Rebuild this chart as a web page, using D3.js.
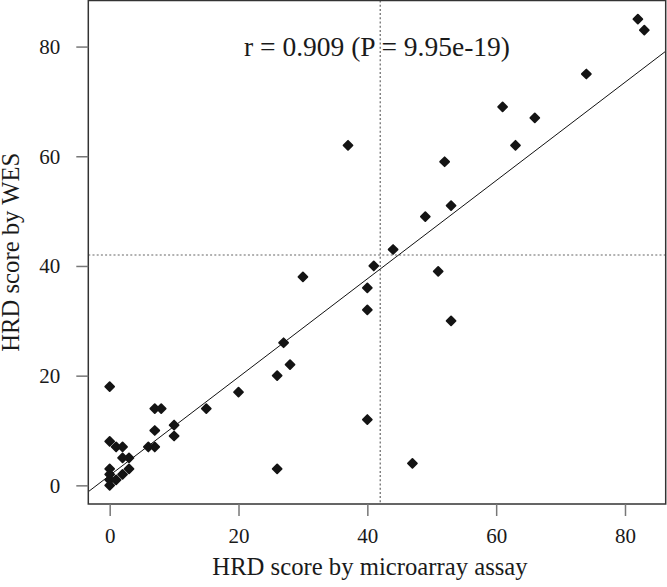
<!DOCTYPE html>
<html>
<head>
<meta charset="utf-8">
<script src="https://cdn.jsdelivr.net/npm/d3@7/dist/d3.min.js"></script>
<style>
  html, body { margin: 0; padding: 0; background: #fff; }
  svg { display: block; }
  text { font-family: "Liberation Serif", "Times New Roman", serif; fill: #1a1a1a; }
</style>
</head>
<body>
<svg id="chart" width="667" height="587"></svg>
<script>
// HRD score by microarray assay (x) and by WES (y), one entry per sample
const microarrayScores = [0, 7, 8, 7, 10, 10, 6, 7, 0, 1, 2, 2, 3, 0, 0, 0, 0, 1, 2, 3,
  15, 20, 26, 28, 27, 26, 30, 37, 40, 40, 40, 41, 44, 47, 49, 51, 53, 53, 52, 61, 63, 66, 74, 82, 83];
const wesScores = [18, 14, 14, 10, 11, 9, 7, 7, 8, 7, 7, 5, 5, 3, 2, 1, 0, 1, 2, 3,
  14, 17, 20, 22, 26, 3, 38, 62, 36, 32, 12, 40, 43, 4, 49, 39, 51, 30, 59, 69, 62, 67, 75, 85, 83];
const xTicks = [0, 20, 40, 60, 80];
const yTicks = [0, 20, 40, 60, 80];
const threshold = [42];
const annotation = "r = 0.909 (P = 9.95e-19)";
const xTitle = "HRD score by microarray assay";
const yTitle = "HRD score by WES";

const points = microarrayScores.map((x, i) => ({ x, y: wesScores[i] }));

const svg = d3.select("#chart");
const plot = { left: 88.3, right: 665.7, top: 0.5, bottom: 504 };

function padded(ext) {
  const d = (ext[1] - ext[0]) * 0.04;
  return [ext[0] - d, ext[1] + d];
}
const x = d3.scaleLinear().domain(padded(d3.extent(microarrayScores))).range([plot.left, plot.right]);
const y = d3.scaleLinear().domain(padded(d3.extent(wesScores))).range([plot.bottom, plot.top]);

svg.append("defs").append("clipPath").attr("id", "clip")
  .append("rect").attr("x", plot.left).attr("y", plot.top)
  .attr("width", plot.right - plot.left).attr("height", plot.bottom - plot.top);

const g = svg.append("g").attr("clip-path", "url(#clip)");

// threshold dotted lines
g.selectAll("line.vthr").data(threshold).join("line")
  .attr("x1", d => x(d)).attr("x2", d => x(d))
  .attr("y1", plot.top).attr("y2", plot.bottom)
  .attr("stroke", "#666").attr("stroke-width", 1.2).attr("stroke-dasharray", "2,2.2");
g.selectAll("line.hthr").data(threshold).join("line")
  .attr("y1", d => y(d)).attr("y2", d => y(d))
  .attr("x1", plot.left).attr("x2", plot.right)
  .attr("stroke", "#666").attr("stroke-width", 1.2).attr("stroke-dasharray", "2,2.2");

// least squares fit
const mx = d3.mean(microarrayScores), my = d3.mean(wesScores);
let sxy = 0, sxx = 0;
points.forEach(p => { sxy += (p.x - mx) * (p.y - my); sxx += (p.x - mx) * (p.x - mx); });
const slope = sxy / sxx, intercept = my - slope * mx;
const xd = x.domain();
g.append("line")
  .attr("x1", x(xd[0])).attr("y1", y(intercept + slope * xd[0]))
  .attr("x2", x(xd[1])).attr("y2", y(intercept + slope * xd[1]))
  .attr("stroke", "#111").attr("stroke-width", 1);

// points
const sym = d3.symbol().type(d3.symbolSquare).size(40);
g.selectAll("path.pt").data(points).join("path")
  .attr("class", "pt")
  .attr("d", sym)
  .attr("transform", d => `translate(${x(d.x)},${y(d.y)}) rotate(45)`)
  .attr("fill", "#141414").attr("stroke", "#141414").attr("stroke-width", 1.8)
  .attr("stroke-linejoin", "round");

// box
svg.append("rect")
  .attr("x", plot.left).attr("y", plot.top)
  .attr("width", plot.right - plot.left).attr("height", plot.bottom - plot.top)
  .attr("fill", "none").attr("stroke", "#333").attr("stroke-width", 1.5);

// x axis
const xAxis = svg.append("g").attr("transform", `translate(0,${plot.bottom})`)
  .call(d3.axisBottom(x).tickValues(xTicks).tickSize(12).tickPadding(12).tickFormat(d3.format("d")));
xAxis.select(".domain").remove();
xAxis.selectAll(".tick line").attr("stroke", "#777").attr("stroke-width", 1.5);
xAxis.selectAll(".tick text").attr("font-size", 21).attr("font-family", "Liberation Serif").attr("fill", "#1a1a1a");

// y axis
const yAxis = svg.append("g").attr("transform", `translate(${plot.left},0)`)
  .call(d3.axisLeft(y).tickValues(yTicks).tickSize(12).tickPadding(16).tickFormat(d3.format("d")));
yAxis.select(".domain").remove();
yAxis.selectAll(".tick line").attr("stroke", "#777").attr("stroke-width", 1.5);
yAxis.selectAll(".tick text").attr("font-size", 21).attr("font-family", "Liberation Serif").attr("fill", "#1a1a1a");

// annotation
svg.append("text").attr("x", (plot.left + plot.right) / 2).attr("y", 55.5)
  .attr("text-anchor", "middle").attr("font-size", 27.5).text(annotation);

// titles
svg.append("text").attr("x", 370).attr("y", 575)
  .attr("text-anchor", "middle").attr("font-size", 24.7).text(xTitle);
svg.append("text").attr("transform", `translate(18.5,${(plot.top + plot.bottom) / 2}) rotate(-90)`)
  .attr("text-anchor", "middle").attr("font-size", 24.7).text(yTitle);
</script>
</body>
</html>
